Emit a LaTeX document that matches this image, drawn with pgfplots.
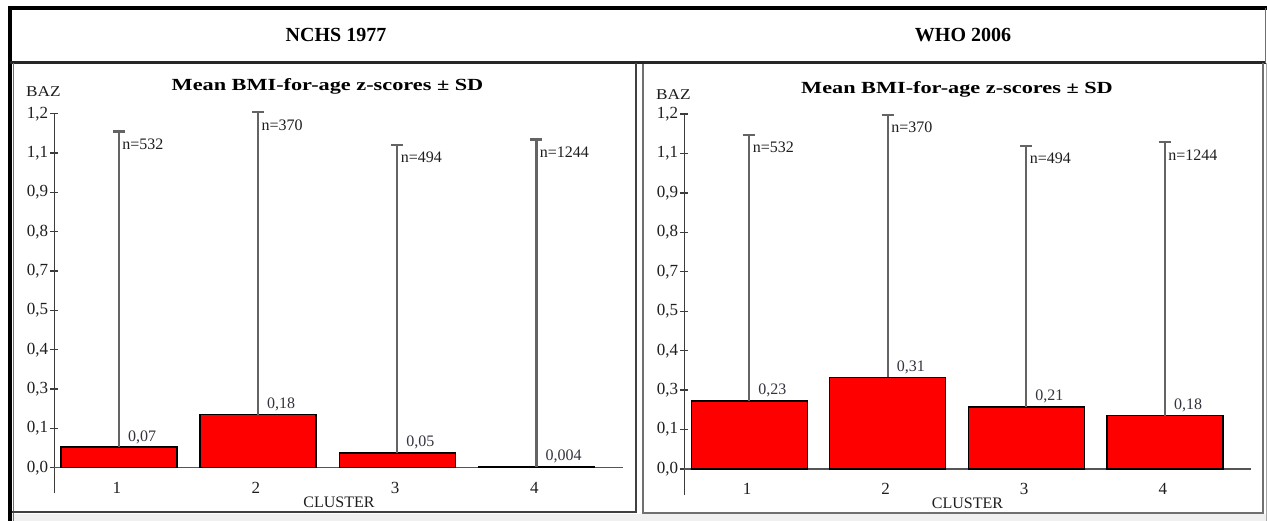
\documentclass[border=0pt]{standalone}
\usepackage{pgfplots}
\pgfplotsset{compat=1.18}
\usepackage{pgfplotstable}
\usepackage{graphicx}
\usepackage{fontspec}
\setmainfont{Liberation Serif}

\definecolor{barred}{HTML}{FF0000}
\definecolor{errgray}{HTML}{646464}
\definecolor{axisgray}{HTML}{3C3C3C}
\definecolor{xgray}{HTML}{555555}
\definecolor{txtgray}{HTML}{1E1E1E}
\definecolor{valgray}{HTML}{34343F}
\definecolor{framegray}{HTML}{707070}
\definecolor{stripgray}{HTML}{F0F0F0}

% cluster, mean BAZ, SD, group size, printed mean
\pgfplotstableread{
x mean sd n lab
1 0.07 1.070 532 0,07
2 0.18 1.025 370 0,18
3 0.05 1.045 494 0,05
4 0.004 1.109 1244 0,004
}\nchsdata

\pgfplotstableread{
x mean sd n lab
1 0.23 0.900 532 0,23
2 0.31 0.887 370 0,31
3 0.21 0.882 494 0,21
4 0.18 0.925 1244 0,18
}\whodata

\newcommand\labfont{\fontsize{16}{16}\selectfont}
\newcommand\tickfont{\fontsize{17}{17}\selectfont}

\pgfplotsset{
  bazpanel/.style={
    scale only axis, anchor=south west, clip=false,
    axis y line=left, axis x line=none,
    axis line style={-, draw=axisgray, line width=1.4pt},
    ymax=1.2,
    ytick={0,0.133333,0.266667,0.4,0.533333,0.666667,0.8,0.933333,1.066667,1.2},
    yticklabels={{0,0},{0,1},{0,3},{0,4},{0,5},{0,7},{0,8},{0,9},{1,1},{1,2}},
    tick align=center, major tick length=8pt,
    ytick style={draw=axisgray, line width=1.3pt},
    yticklabel style={font=\tickfont, text=txtgray, inner sep=2pt},
    extra y ticks={0}, extra y tick labels={},
    extra y tick style={grid=major, major tick length=0pt,
      major grid style={draw=xgray, line width=1.6pt}},
  },
  bazbars/.style={
    ybar, bar width=116pt, fill=barred, draw=black, line width=1.3pt,
    nodes near coords, point meta=explicit symbolic,
    every node near coord/.append style={anchor=base west, xshift=8.5pt,
      yshift=6pt, inner sep=0pt, font=\labfont, text=valgray},
    error bars/.cd, y dir=plus, y explicit,
    error bar style={line width=2.3pt, draw=errgray},
    error mark options={rotate=90, mark size=6pt, line width=2.3pt, draw=errgray},
  },
  bazn/.style={
    draw=none, mark=none, forget plot,
    nodes near coords={n=\pgfplotspointmeta}, point meta=explicit symbolic,
    every node near coord/.append style={anchor=base west, xshift=3.3pt,
      yshift=-18pt, inner sep=0pt, font=\labfont, text=txtgray},
  },
}

\begin{document}
\begin{tikzpicture}[x=1pt,y=1pt]
\useasboundingbox (0,0) rectangle (1267,521);
\fill[white] (0,0) rectangle (1267,521);
\fill[stripgray] (12,0) rectangle (1267,7);
\fill[white] (12,9) rectangle (636,458);

% frame of the two panels and the header row
\draw[black, line width=3.5pt] (8,513) -- (1267,513);
\draw[black, line width=3.5pt] (10,515) -- (10,0);
\draw[black!85, line width=3pt] (10,458) -- (1266,458);
\draw[framegray, line width=1pt] (1265.5,513) -- (1265.5,458);
\draw[framegray, line width=0.8pt] (13,458) -- (13,0);
\draw[black!75, line width=2pt] (12,9) -- (637,9);
\draw[black!75, line width=2pt] (636,458) -- (636,8);
\draw[framegray, line width=1.2pt] (643,457) -- (643,6.5);
\draw[framegray, line width=2pt] (642.5,7.5) -- (1264,7.5);
\draw[framegray, line width=1.5pt] (1263,458) -- (1263,6.5);
\draw[framegray!60, line width=0.8pt] (1266,458) -- (1266,0);

\node[font=\fontsize{20}{20}\selectfont\bfseries] at (336,486) {NCHS 1977};
\node[font=\fontsize{20}{20}\selectfont\bfseries] at (963,486) {WHO 2006};

% NCHS 1977 panel
\node[anchor=base, inner sep=0pt, font=\fontsize{17}{17}\selectfont\bfseries]
  at (327.5,430.3) {\scalebox{1.31}[1]{Mean BMI-for-age z-scores ± SD}};
\node[anchor=base west, inner sep=0pt, font=\fontsize{15}{15}\selectfont, text=txtgray]
  at (26,424) {\scalebox{1.15}[1]{BAZ}};
\node[anchor=base, inner sep=0pt, font=\labfont, text=txtgray] at (339,13) {CLUSTER};
\begin{axis}[bazpanel, at={(54.3pt,27.7pt)}, width=569pt, height=379.6pt,
  xmin=0.536, xmax=4.624, ymin=-0.0868]
  \addplot[bazbars] table[x=x, y=mean, y error=sd, meta=lab] {\nchsdata};
  \addplot[bazn] table[x=x, y expr=\thisrow{mean}+\thisrow{sd}, meta=n] {\nchsdata};
  \node[anchor=base, font=\tickfont, text=txtgray] at (axis cs:0.985,-0.0868) {1};
  \node[anchor=base, font=\tickfont, text=txtgray] at (axis cs:1.985,-0.0868) {2};
  \node[anchor=base, font=\tickfont, text=txtgray] at (axis cs:2.985,-0.0868) {3};
  \node[anchor=base, font=\tickfont, text=txtgray] at (axis cs:3.985,-0.0868) {4};
\end{axis}

% WHO 2006 panel
\node[anchor=base, inner sep=0pt, font=\fontsize{17}{17}\selectfont\bfseries]
  at (957,427.5) {\scalebox{1.31}[1]{Mean BMI-for-age z-scores ± SD}};
\node[anchor=base west, inner sep=0pt, font=\fontsize{15}{15}\selectfont, text=txtgray]
  at (656,421) {\scalebox{1.15}[1]{BAZ}};
\node[anchor=base, inner sep=0pt, font=\labfont, text=txtgray] at (967.5,12) {CLUSTER};
\begin{axis}[bazpanel, at={(684.3pt,26pt)}, width=566.7pt, height=381pt,
  xmin=0.531, xmax=4.622, ymin=-0.0879]
  \addplot[bazbars] table[x=x, y=mean, y error=sd, meta=lab] {\whodata};
  \addplot[bazn] table[x=x, y expr=\thisrow{mean}+\thisrow{sd}, meta=n] {\whodata};
  \node[anchor=base, font=\tickfont, text=txtgray] at (axis cs:0.985,-0.0879) {1};
  \node[anchor=base, font=\tickfont, text=txtgray] at (axis cs:1.985,-0.0879) {2};
  \node[anchor=base, font=\tickfont, text=txtgray] at (axis cs:2.985,-0.0879) {3};
  \node[anchor=base, font=\tickfont, text=txtgray] at (axis cs:3.985,-0.0879) {4};
\end{axis}
\end{tikzpicture}
\end{document}
